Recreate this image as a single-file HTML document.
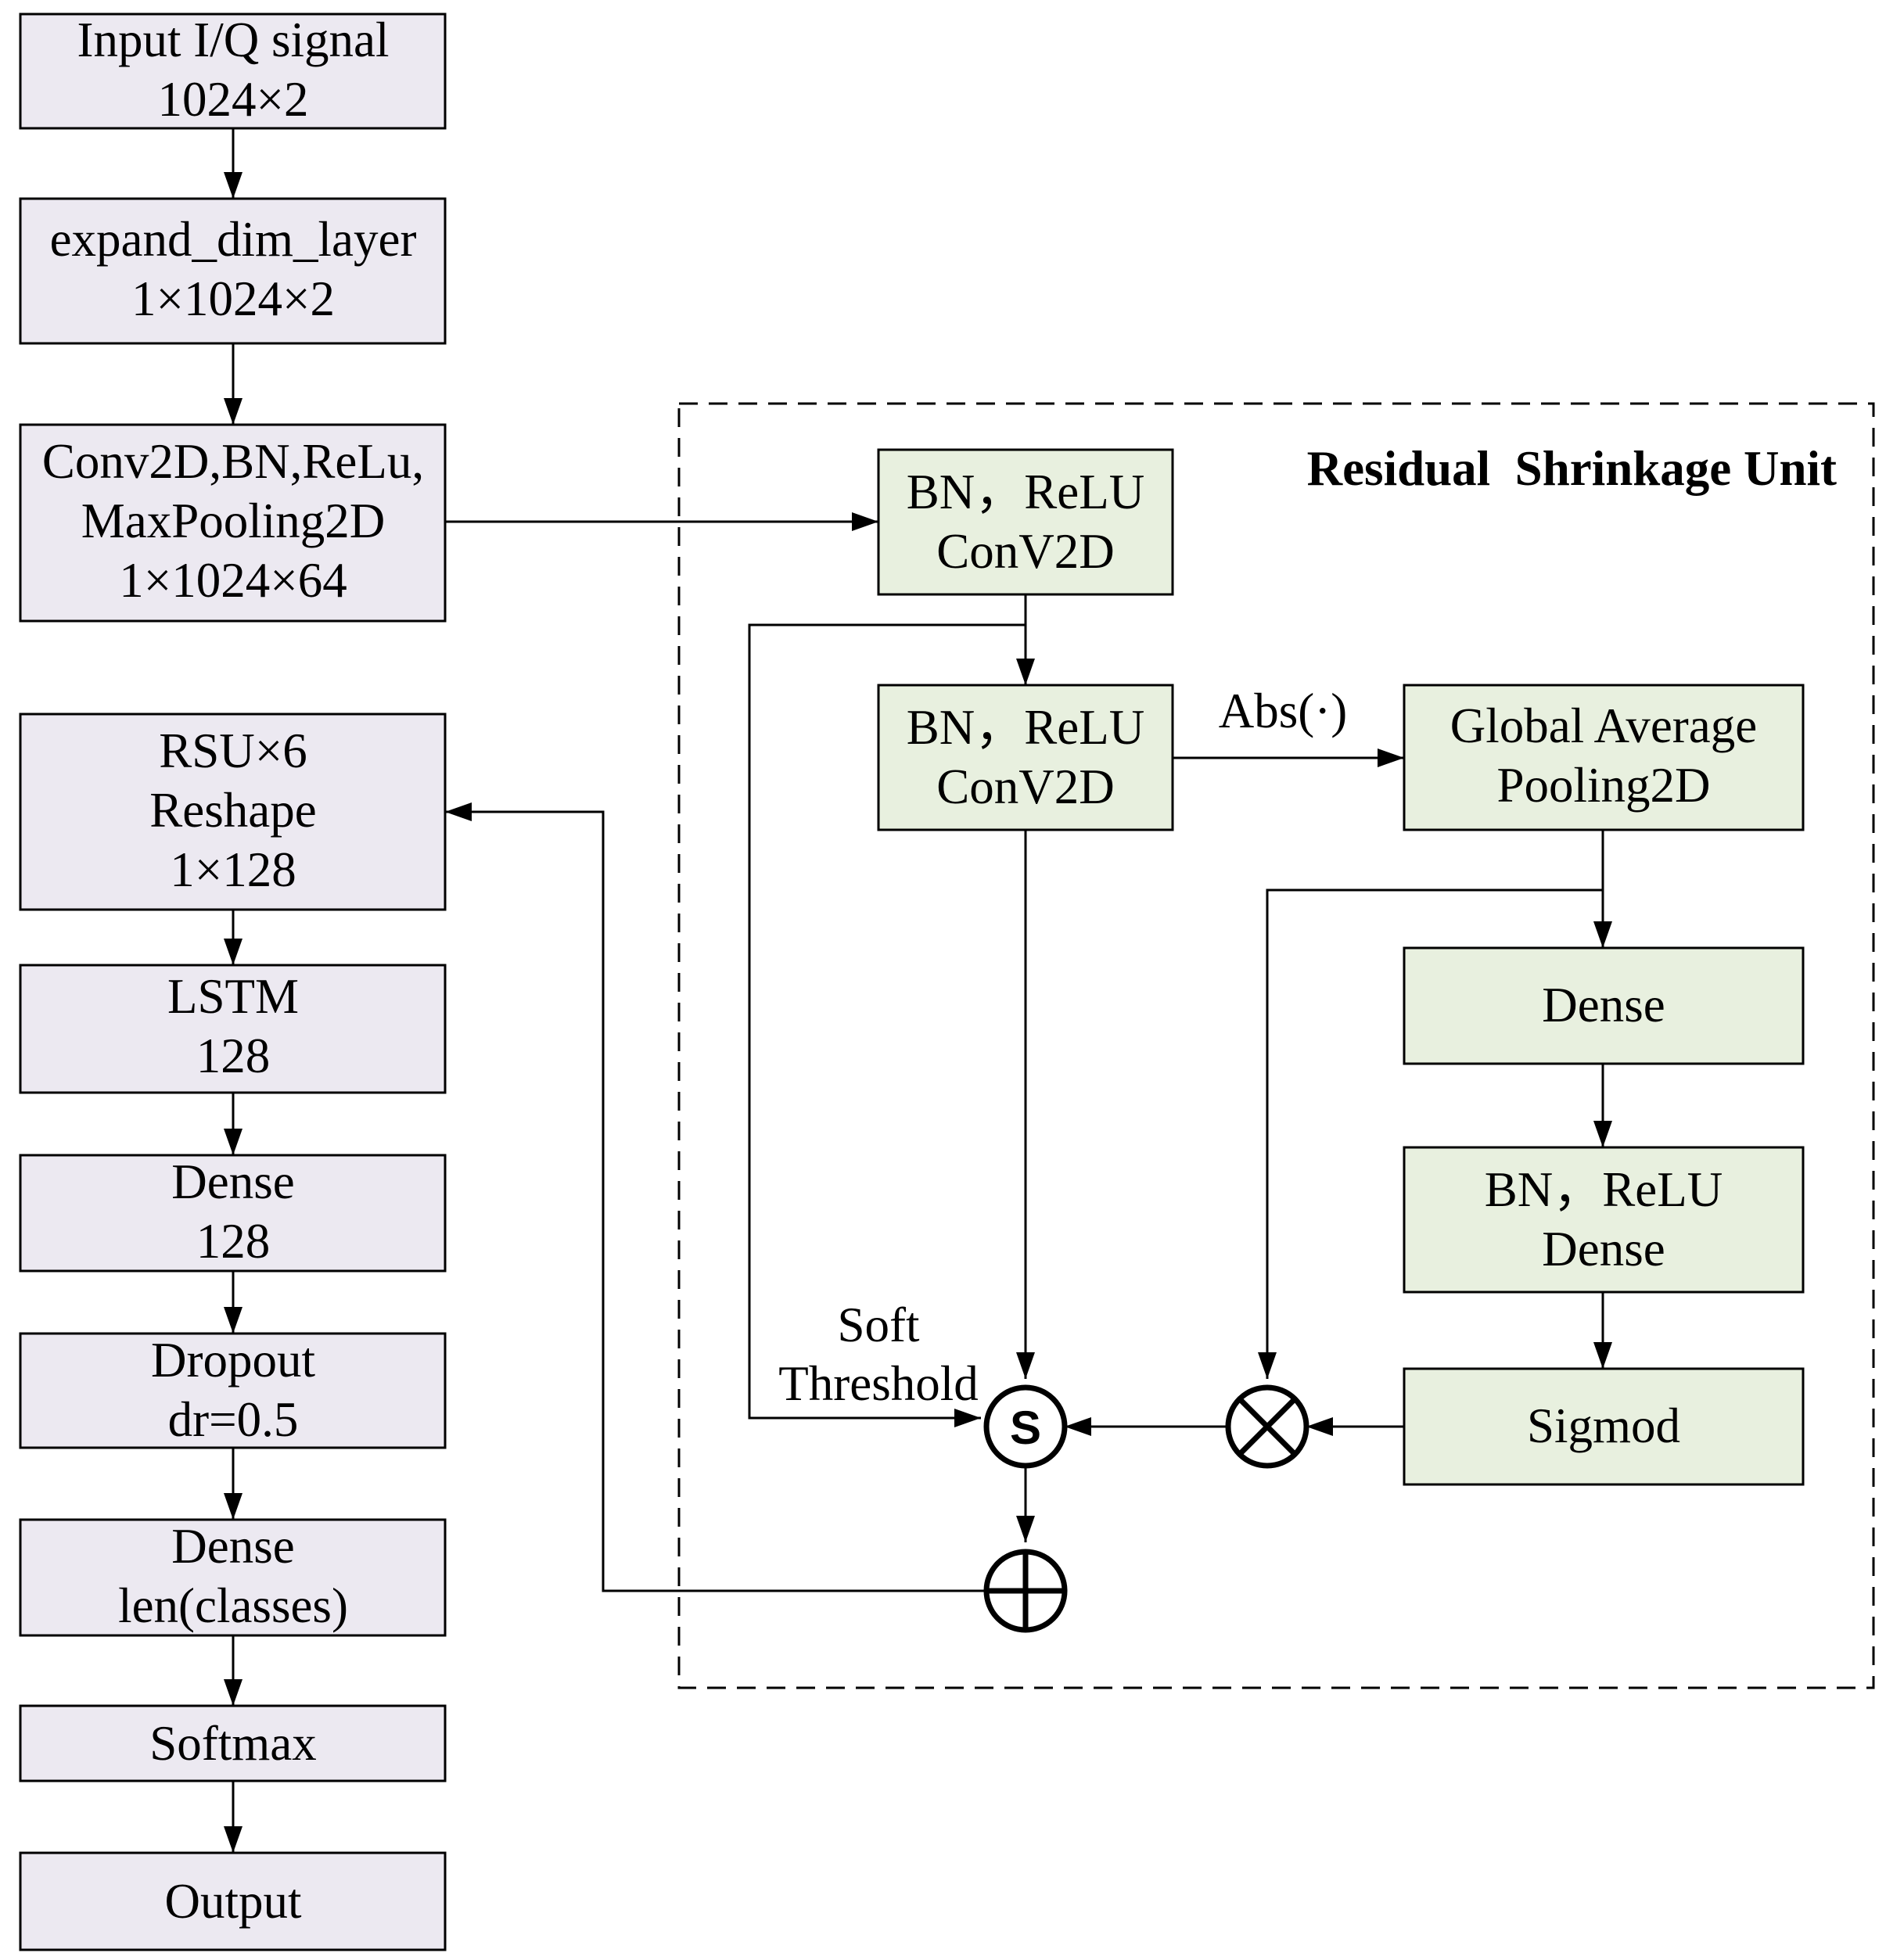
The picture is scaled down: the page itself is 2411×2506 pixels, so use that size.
<!DOCTYPE html>
<html><head><meta charset="utf-8"><style>
html,body{margin:0;padding:0;background:#fff}
svg{display:block}
text{font-family:"Liberation Serif",serif;font-size:63px;fill:#000}
</style></head><body>
<svg width="2411" height="2506" viewBox="0 0 2411 2506" xmlns="http://www.w3.org/2000/svg">
<defs>
<marker id="a" markerWidth="34" markerHeight="24" refX="34" refY="12" orient="auto" markerUnits="userSpaceOnUse"><path d="M0,0 L34,12 L0,24 z" fill="#000"/></marker>
</defs>
<g stroke="#000" stroke-width="3" fill="#ece9f1">
<rect x="26" y="18" width="543" height="146"/>
<rect x="26" y="254" width="543" height="185"/>
<rect x="26" y="543" width="543" height="251"/>
<rect x="26" y="913" width="543" height="250"/>
<rect x="26" y="1234" width="543" height="163"/>
<rect x="26" y="1477" width="543" height="148"/>
<rect x="26" y="1705" width="543" height="146"/>
<rect x="26" y="1943" width="543" height="148"/>
<rect x="26" y="2181" width="543" height="96"/>
<rect x="26" y="2369" width="543" height="124"/>
</g>
<g stroke="#000" stroke-width="3" fill="#e8f0df">
<rect x="1123" y="575" width="376" height="185"/>
<rect x="1123" y="876" width="376" height="185"/>
<rect x="1795" y="876" width="510" height="185"/>
<rect x="1795" y="1212" width="510" height="148"/>
<rect x="1795" y="1467" width="510" height="185"/>
<rect x="1795" y="1750" width="510" height="148"/>
</g>
<rect x="868" y="516" width="1527" height="1642" fill="none" stroke="#000" stroke-width="3" stroke-dasharray="24,14"/>
<g stroke="#000" stroke-width="3" fill="none">
<line x1="298" y1="164" x2="298" y2="254" marker-end="url(#a)"/>
<line x1="298" y1="439" x2="298" y2="543" marker-end="url(#a)"/>
<line x1="298" y1="1163" x2="298" y2="1234" marker-end="url(#a)"/>
<line x1="298" y1="1397" x2="298" y2="1477" marker-end="url(#a)"/>
<line x1="298" y1="1625" x2="298" y2="1705" marker-end="url(#a)"/>
<line x1="298" y1="1851" x2="298" y2="1943" marker-end="url(#a)"/>
<line x1="298" y1="2091" x2="298" y2="2181" marker-end="url(#a)"/>
<line x1="298" y1="2277" x2="298" y2="2369" marker-end="url(#a)"/>
<line x1="569" y1="667" x2="1123" y2="667" marker-end="url(#a)"/>
<line x1="1311" y1="760" x2="1311" y2="876" marker-end="url(#a)"/>
<polyline points="1311,799 958,799 958,1813 1254,1813" marker-end="url(#a)"/>
<line x1="1311" y1="1061" x2="1311" y2="1763" marker-end="url(#a)"/>
<line x1="1499" y1="969" x2="1795" y2="969" marker-end="url(#a)"/>
<line x1="2049" y1="1061" x2="2049" y2="1212" marker-end="url(#a)"/>
<polyline points="2049,1138 1620,1138 1620,1763" marker-end="url(#a)"/>
<line x1="2049" y1="1360" x2="2049" y2="1467" marker-end="url(#a)"/>
<line x1="2049" y1="1652" x2="2049" y2="1750" marker-end="url(#a)"/>
<line x1="1795" y1="1824" x2="1670" y2="1824" marker-end="url(#a)"/>
<line x1="1570" y1="1824" x2="1361" y2="1824" marker-end="url(#a)"/>
<line x1="1311" y1="1874" x2="1311" y2="1972" marker-end="url(#a)"/>
<polyline points="1261,2034 771,2034 771,1038 569,1038" marker-end="url(#a)"/>
</g>
<g stroke="#000" stroke-width="7" fill="#fff">
<circle cx="1311" cy="1824" r="50"/>
<circle cx="1620" cy="1824" r="50"/>
<circle cx="1311" cy="2034" r="50"/>
</g>
<g stroke="#000" stroke-width="7">
<line x1="1585" y1="1789" x2="1655" y2="1859"/>
<line x1="1655" y1="1789" x2="1585" y2="1859"/>
<line x1="1261" y1="2034" x2="1361" y2="2034"/>
<line x1="1311" y1="1984" x2="1311" y2="2084"/>
</g>
<text x="1311" y="1846" text-anchor="middle" style="font-family:'Liberation Sans',sans-serif;font-weight:bold;font-size:60px">S</text>
<g text-anchor="middle">
<text x="298" y="72">Input I/Q signal</text>
<text x="298" y="148">1024×2</text>
<text x="298" y="327">expand_dim_layer</text>
<text x="298" y="403">1×1024×2</text>
<text x="298" y="611">Conv2D,BN,ReLu,</text>
<text x="298" y="687">MaxPooling2D</text>
<text x="298" y="763">1×1024×64</text>
<text x="298" y="981">RSU×6</text>
<text x="298" y="1057">Reshape</text>
<text x="298" y="1133">1×128</text>
<text x="298" y="1295">LSTM</text>
<text x="298" y="1371">128</text>
<text x="298" y="1532">Dense</text>
<text x="298" y="1608">128</text>
<text x="298" y="1760">Dropout</text>
<text x="298" y="1836">dr=0.5</text>
<text x="298" y="1998">Dense</text>
<text x="298" y="2074">len(classes)</text>
<text x="298" y="2250">Softmax</text>
<text x="298" y="2452">Output</text>
<text x="1311" y="650">BN，ReLU</text>
<text x="1311" y="726">ConV2D</text>
<text x="1311" y="951">BN，ReLU</text>
<text x="1311" y="1027">ConV2D</text>
<text x="2050" y="949">Global Average</text>
<text x="2050" y="1025">Pooling2D</text>
<text x="2050" y="1306">Dense</text>
<text x="2050" y="1542">BN，ReLU</text>
<text x="2050" y="1618">Dense</text>
<text x="2050" y="1844">Sigmod</text>
<text x="1640" y="930">Abs(·)</text>
<text x="1123" y="1715">Soft</text>
<text x="1123" y="1790">Threshold</text>
</g>
<text x="2348" y="620" text-anchor="end" style="font-weight:bold;font-size:63px" xml:space="preserve">Residual  Shrinkage Unit</text>
</svg>
</body></html>
